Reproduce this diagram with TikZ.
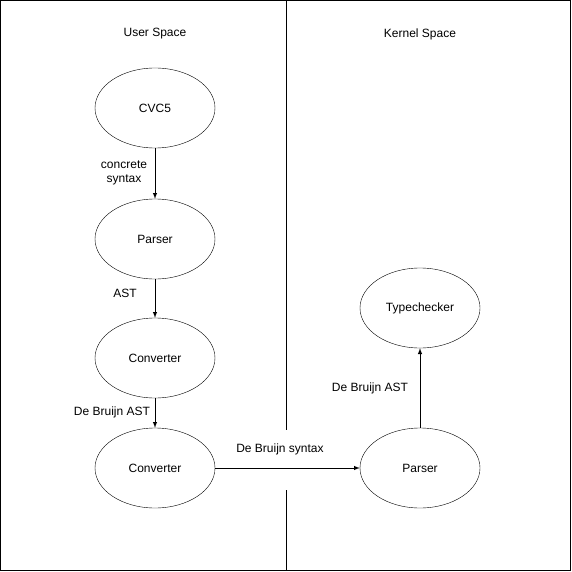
\documentclass[tikz,border=0pt]{standalone}
\usepackage{fontspec}
\setmainfont{Liberation Sans}
\usetikzlibrary{arrows}
\usetikzlibrary{shapes.geometric}

\begin{document}
\begin{tikzpicture}[x=1pt,y=-1pt,
  stage/.style={draw,ellipse,minimum width=120pt,minimum height=80pt,inner sep=0pt,font=\fontsize{12}{14}\selectfont},
  lbl/.style={font=\fontsize{12}{14}\selectfont,align=center,inner sep=0pt},
  flow/.style={-latex,line width=1pt}]
\def\W{571}
\def\H{572}
\def\divx{286}

\useasboundingbox (0,0) rectangle (\W,\H);

%Frame and divider:
\draw[line width=1pt] (0.5,0.5) rectangle (570.5,570.5);
\coordinate (top) at (\divx,0.5);
\coordinate (gapA) at (\divx,430);
\coordinate (gapB) at (\divx,490);
\coordinate (bot) at (\divx,570.5);
\draw (top) -- (gapA);
\draw (gapB) -- (bot);

\node[lbl] (user) at (155,34) {User Space};
\node[lbl] (kernel) at (420,34) {Kernel Space};

%User side:
\node[stage] (cvc) at (155,108) {CVC5};
\node[stage] (parseU) at (155,239) {Parser};
\node[stage] (convA) at (155,358) {Converter};
\node[stage] (convB) at (155,468) {Converter};

%Kernel side:
\node[stage] (typeK) at (420,308) {Typechecker};
\node[stage] (parseK) at (420,468) {Parser};

\draw[flow] (cvc) -- (parseU);
\draw[flow] (parseU) -- (convA);
\draw[flow] (convA) -- (convB);
\draw[flow] (convB) -- (parseK);
\draw[flow] (parseK) -- (typeK);

\node[lbl] (l1) at (124,173) {concrete\\syntax};
\node[lbl] (l2) at (125,293) {AST};
\node[lbl] (l3) at (112,412) {De Bruijn AST};
\node[lbl] (l4) at (280,449) {De Bruijn syntax};
\node[lbl] (l5) at (370,388) {De Bruijn AST};

\end{tikzpicture}
\end{document}
